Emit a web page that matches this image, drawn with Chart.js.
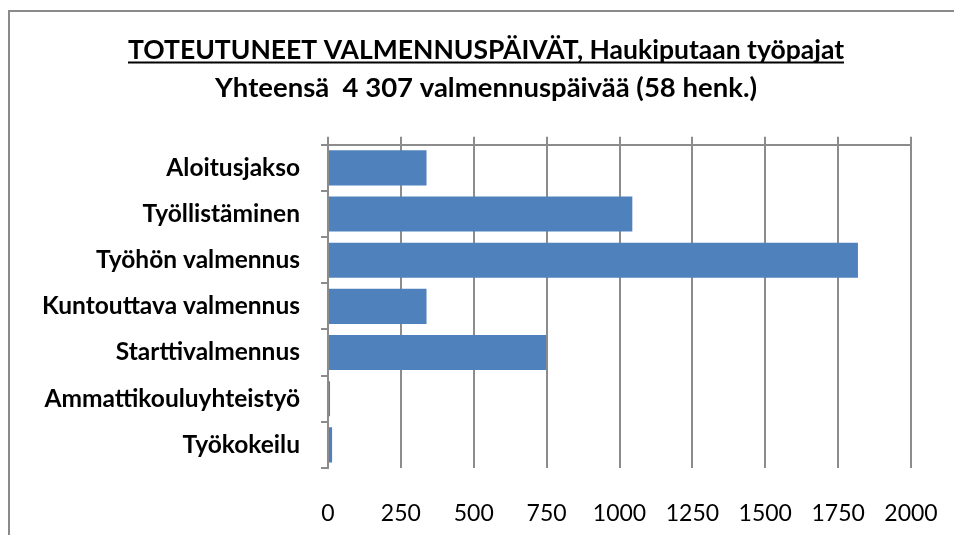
<!DOCTYPE html>
<html>
<head>
<meta charset="utf-8">
<script src="https://cdn.jsdelivr.net/npm/chart.js@4.4.0/dist/chart.umd.min.js"></script>
<style>
  html, body { margin: 0; padding: 0; background: #fff; overflow: hidden; }
  #frame {
    position: absolute; left: 8px; top: 10px; width: 960px; height: 540px;
    border-left: 2px solid #8a8a8a; border-top: 2px solid #8a8a8a;
  }
  #wrap { position: absolute; left: 0; top: 0; width: 954px; height: 535px; }
</style>
</head>
<body>
<div id="frame"></div>
<div id="wrap"><canvas id="daysChart" width="954" height="535"></canvas></div>
<script>
const categories = [
    'Aloitusjakso',
    'Työllistäminen',
    'Työhön valmennus',
    'Kuntouttava valmennus',
    'Starttivalmennus',
    'Ammattikouluyhteistyö',
    'Työkokeilu'
];
const days = [338, 1044, 1818, 338, 748, 7, 14];
const titleText = 'TOTEUTUNEET VALMENNUSPÄIVÄT, Haukiputaan työpajat';
const subtitleText = 'Yhteensä  4 307 valmennuspäivää (58 henk.)';
const axisMin = 0;
const axisMax = 2000;
const axisStep = 250;

const gridGray = '#8c8c8c';
const plotRightGap = 43;

// underline the main title line, like the original
const underlineTitle = {
    id: 'underlineTitle',
    afterDraw(chart) {
        const block = chart.titleBlock;
        if (!block) return;
        const opts = chart.options.plugins.title;
        const c = chart.ctx;
        const size = opts.font.size;
        const lineHeight = size * opts.font.lineHeight;
        c.save();
        c.font = `bold ${size}px ${opts.font.family}`;
        const w = c.measureText(titleText).width;
        const midX = (block.left + block.right) / 2;
        const y = block.top + opts.padding.top + lineHeight / 2 + size * 0.44;
        c.strokeStyle = '#000';
        c.lineWidth = 2;
        c.beginPath();
        c.moveTo(midX - w / 2, y);
        c.lineTo(midX + w / 2, y);
        c.stroke();
        c.restore();
    }
};

Chart.defaults.font.family = 'Lato';
Chart.defaults.color = '#000';

const ctx = document.getElementById('daysChart').getContext('2d');
new Chart(ctx, {
    type: 'bar',
    data: {
        labels: categories,
        datasets: [{
            data: days,
            backgroundColor: '#4f81bd',
            borderWidth: 0,
            barPercentage: 0.76,
            categoryPercentage: 1
        }]
    },
    options: {
        indexAxis: 'y',
        responsive: false,
        animation: false,
        layout: {
            padding: {left: 18, right: 0, top: 0, bottom: 0}
        },
        plugins: {
            legend: {display: false},
            tooltip: {enabled: false},
            title: {
                display: true,
                text: titleText,
                color: '#000',
                font: {size: 26.5, weight: 'bold', family: 'Lato', lineHeight: 1.2},
                padding: {top: 35, bottom: 0}
            },
            subtitle: {
                display: true,
                text: subtitleText,
                color: '#000',
                font: {size: 27.5, weight: 'bold', family: 'Lato', lineHeight: 1.2},
                padding: {top: 5, bottom: 32}
            }
        },
        scales: {
            x: {
                position: 'bottom',
                min: axisMin,
                max: axisMax,
                ticks: {
                    stepSize: axisStep,
                    padding: 32,
                    font: {size: 23},
                    color: '#000',
                    callback: (v) => String(v)
                },
                grid: {
                    color: gridGray,
                    lineWidth: 2,
                    drawTicks: false
                },
                border: {display: false},
                afterFit(scale) {
                    scale.height = 67;
                    scale.paddingLeft = 0;
                    scale.paddingRight = plotRightGap;
                }
            },
            x2: {
                position: 'top',
                axis: 'x',
                min: axisMin,
                max: axisMax,
                ticks: {stepSize: axisStep, display: false},
                grid: {
                    color: gridGray,
                    lineWidth: 2,
                    drawOnChartArea: false,
                    tickLength: 8
                },
                border: {display: true, color: gridGray, width: 2},
                afterFit(scale) {
                    scale.height = 8;
                    scale.paddingLeft = 0;
                    scale.paddingRight = plotRightGap;
                }
            },
            y: {
                ticks: {
                    padding: 21,
                    font: {size: 24.5, weight: 'bold'},
                    color: '#000'
                },
                grid: {
                    color: gridGray,
                    lineWidth: 2,
                    drawOnChartArea: false,
                    tickLength: 7
                },
                border: {display: true, color: gridGray, width: 2},
                afterFit(scale) {
                    scale.width = 310;
                    scale.paddingTop = 0;
                    scale.paddingBottom = 0;
                }
            }
        }
    },
    plugins: [underlineTitle]
});
</script>
</body>
</html>
